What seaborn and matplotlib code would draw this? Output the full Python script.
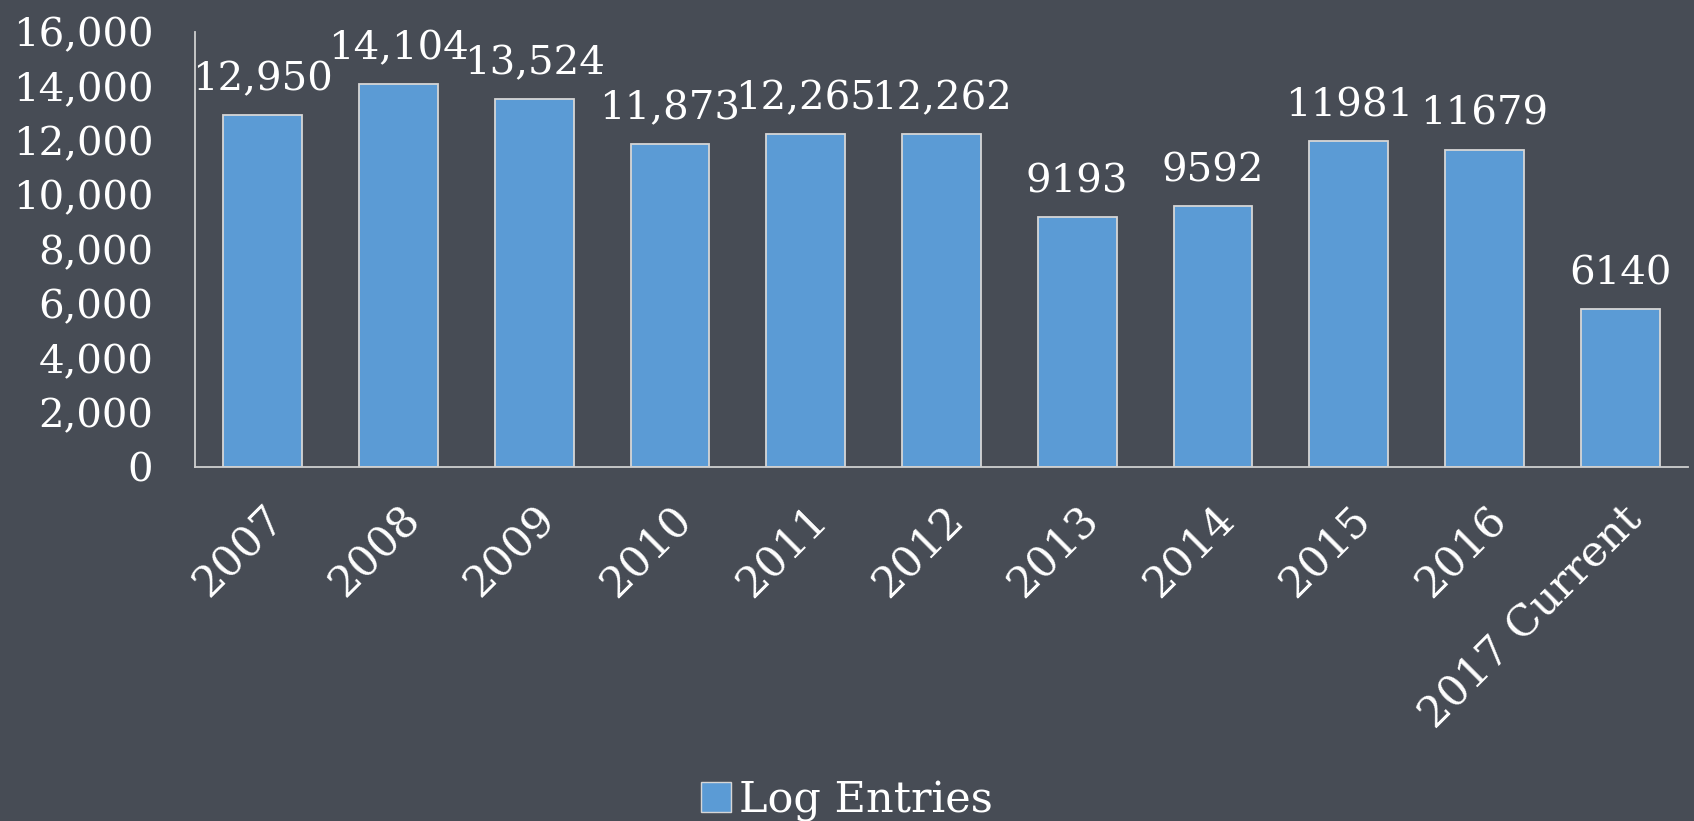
import matplotlib
matplotlib.use("Agg")
import matplotlib.pyplot as plt
import matplotlib.ticker as mticker
from matplotlib.patches import Patch
import seaborn as sns

# Données
years = ["2007", "2008", "2009", "2010", "2011", "2012",
         "2013", "2014", "2015", "2016", "2017 Current"]
entries = [12950, 14104, 13524, 11873, 12265, 12262,
           9193, 9592, 11981, 11679, 5800]
bar_labels = ["12,950", "14,104", "13,524", "11,873", "12,265", "12,262",
              "9193", "9592", "11981", "11679", "6140"]

bg = "#474c55"
bar_color = "#5b9bd5"
text_color = "white"

sns.set_theme(style="white")
plt.rcParams["font.family"] = ["DejaVu Serif"]

fig = plt.figure(figsize=(16.94, 8.21), dpi=100, facecolor=bg)
ax = fig.add_axes([0.115, 0.431, 0.8815, 0.53])
ax.set_facecolor(bg)

sns.barplot(x=years, y=entries, color=bar_color, edgecolor="#d6d6d6",
            linewidth=1.3, width=0.58, saturation=1, ax=ax)

ax.bar_label(ax.containers[0], labels=bar_labels, padding=12,
             color=text_color, fontsize=29)

ax.set_ylim(0, 16000)
ax.set_yticks(range(0, 16001, 2000))
ax.yaxis.set_major_formatter(mticker.StrMethodFormatter("{x:,.0f}"))
ax.tick_params(axis="y", length=0, pad=30, labelsize=29, labelcolor=text_color)
ax.tick_params(axis="x", length=0, pad=22, labelsize=31, labelcolor=text_color)
plt.setp(ax.get_xticklabels(), rotation=45, ha="right", rotation_mode="anchor")

for side in ["top", "right"]:
    ax.spines[side].set_visible(False)
for side in ["left", "bottom"]:
    ax.spines[side].set_color("#cfcfcf")
    ax.spines[side].set_linewidth(1.3)

ax.set_xlabel("")
ax.set_ylabel("")

handle = Patch(facecolor=bar_color, edgecolor="#d6d6d6", linewidth=1)
leg = fig.legend([handle], ["Log Entries"], loc="lower center",
                 bbox_to_anchor=(0.5, -0.048), frameon=False, fontsize=31,
                 handlelength=0.7, handleheight=0.7, handletextpad=0.2)
for t in leg.get_texts():
    t.set_color(text_color)

fig.savefig("out.png", dpi=100, facecolor=bg)
